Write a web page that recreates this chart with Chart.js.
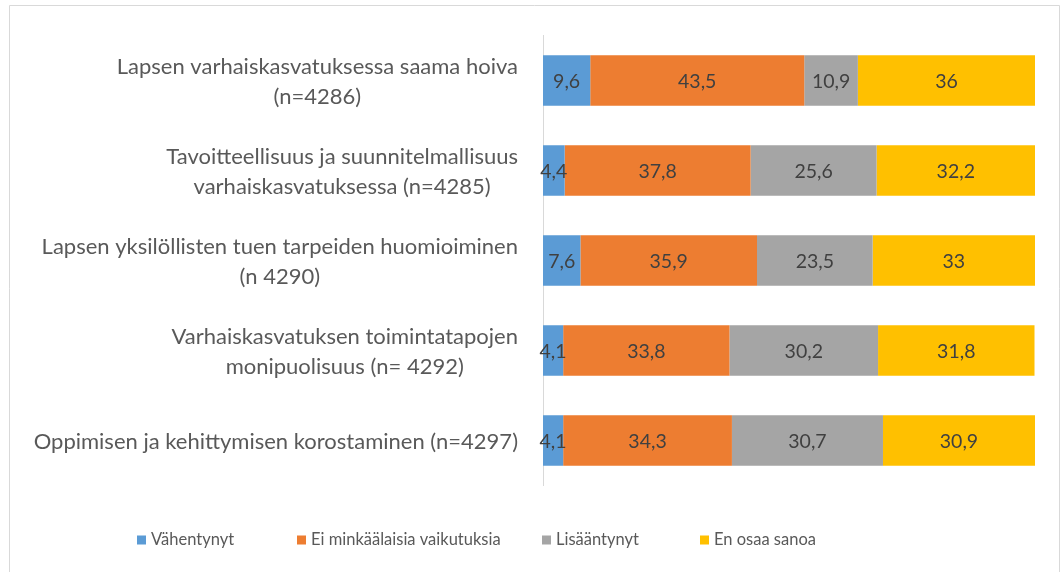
<!DOCTYPE html>
<html>
<head>
<meta charset="utf-8">
<script src="https://cdn.jsdelivr.net/npm/chart.js@4/dist/chart.umd.min.js"></script>
<style>
html,body{margin:0;padding:0;background:#fff;}
#wrap{position:relative;width:1061px;height:572px;}
canvas{display:block;}
</style>
</head>
<body>
<div id="wrap"><canvas id="c" width="1061" height="572" style="width:1061px;height:572px"></canvas></div>
<script>
// ---- data ----
const categories = [
  ["Lapsen varhaiskasvatuksessa saama hoiva", "(n=4286)"],
  ["Tavoitteellisuus ja suunnitelmallisuus", "varhaiskasvatuksessa (n=4285)"],
  ["Lapsen yksilöllisten tuen tarpeiden huomioiminen", "(n 4290)"],
  ["Varhaiskasvatuksen toimintatapojen", "monipuolisuus (n= 4292)"],
  ["Oppimisen ja kehittymisen korostaminen (n=4297)"]
];
const seriesNames = ["Vähentynyt", "Ei minkäälaisia vaikutuksia", "Lisääntynyt", "En osaa sanoa"];
const vahentynyt    = [9.6, 4.4, 7.6, 4.1, 4.1];
const eiVaikutuksia = [43.5, 37.8, 35.9, 33.8, 34.3];
const lisaantynyt   = [10.9, 25.6, 23.5, 30.2, 30.7];
const enOsaaSanoa   = [36, 32.2, 33, 31.8, 30.9];
const xMin = 0, xMax = 100;

// ---- styles ----
const colors = ["#5B9BD5", "#ED7D31", "#A5A5A5", "#FFC000"];
const FONT = "Lato, 'Open Sans', sans-serif";
const TEXT = "#595959";

const seriesValues = [vahentynyt, eiVaikutuksia, lisaantynyt, enOsaaSanoa];

const framePlugin = {
  id: 'frame',
  beforeDraw(chart) {
    const ctx = chart.ctx;
    ctx.save();
    ctx.fillStyle = '#ffffff';
    ctx.fillRect(0, 0, chart.width, chart.height);
    ctx.strokeStyle = '#d9d9d9';
    ctx.lineWidth = 1;
    ctx.beginPath();
    ctx.moveTo(9.5, chart.height);
    ctx.lineTo(9.5, 5.5);
    ctx.lineTo(1059.5, 5.5);
    ctx.lineTo(1059.5, chart.height);
    ctx.stroke();
    ctx.restore();
  }
};

const yLabelPlugin = {
  id: 'yLabels',
  afterDraw(chart) {
    const ctx = chart.ctx;
    const yScale = chart.scales.y;
    ctx.save();
    ctx.font = "22px " + FONT;
    ctx.fillStyle = TEXT;
    ctx.textAlign = 'center';
    ctx.textBaseline = 'middle';
    const right = 518;
    const lh = 30;
    chart.data.labels.forEach((lab, i) => {
      const lines = Array.isArray(lab) ? lab : [lab];
      const w = Math.max(...lines.map(l => ctx.measureText(l).width));
      const cx = right - w / 2;
      const yc = yScale.getPixelForValue(i) + 1;
      lines.forEach((l, k) => {
        ctx.fillText(l, cx, yc + (k - (lines.length - 1) / 2) * lh);
      });
    });
    ctx.restore();
  }
};

const dataLabelPlugin = {
  id: 'dataLabels',
  afterDatasetsDraw(chart) {
    const ctx = chart.ctx;
    ctx.save();
    ctx.font = "19.5px " + FONT;
    ctx.fillStyle = "#404040";
    ctx.textAlign = 'center';
    ctx.textBaseline = 'middle';
    chart.data.datasets.forEach((ds, di) => {
      const meta = chart.getDatasetMeta(di);
      meta.data.forEach((el, i) => {
        const v = ds.data[i];
        const cx = (el.x + el.base) / 2;
        ctx.fillText(String(v).replace('.', ','), cx, el.y + 1);
      });
    });
    ctx.restore();
  }
};

const legendPlugin = {
  id: 'customLegend',
  afterDraw(chart) {
    const ctx = chart.ctx;
    ctx.save();
    ctx.font = "16.5px " + FONT;
    ctx.textBaseline = 'middle';
    ctx.textAlign = 'left';
    const boxX = [137, 297, 542, 700];
    const y = 540;
    chart.data.datasets.forEach((ds, i) => {
      ctx.fillStyle = ds.backgroundColor;
      ctx.fillRect(boxX[i], y - 4.5, 9, 9);
      ctx.fillStyle = TEXT;
      ctx.fillText(ds.label, boxX[i] + 14, y);
    });
    ctx.restore();
  }
};

new Chart(document.getElementById('c'), {
  type: 'bar',
  data: {
    labels: categories,
    datasets: seriesNames.map((name, i) => ({
      label: name,
      data: seriesValues[i],
      backgroundColor: colors[i],
      borderWidth: 0,
      categoryPercentage: 0.562,
      barPercentage: 1
    }))
  },
  options: {
    indexAxis: 'y',
    responsive: false,
    animation: false,
    devicePixelRatio: 1,
    layout: { padding: { left: 10, right: 26, top: 35.5, bottom: 86.5 } },
    plugins: {
      legend: { display: false },
      tooltip: { enabled: false },
      title: { display: false }
    },
    scales: {
      x: {
        stacked: true, min: xMin, max: xMax, display: false
      },
      y: {
        stacked: true,
        afterFit(scale) { scale.width = 533; },
        ticks: { display: false },
        grid: { display: false },
        border: { display: true, color: '#d9d9d9', width: 1 }
      }
    }
  },
  plugins: [framePlugin, yLabelPlugin, dataLabelPlugin, legendPlugin]
});
</script>
</body>
</html>
